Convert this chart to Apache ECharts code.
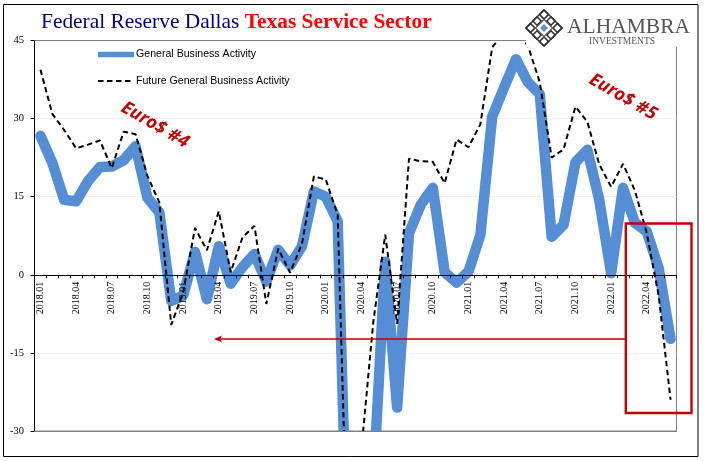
<!DOCTYPE html>
<html><head><meta charset="utf-8">
<style>html,body{margin:0;padding:0;background:#fff}#c{width:705px;height:461px}</style>
<script src="https://cdn.jsdelivr.net/npm/echarts@6/dist/echarts.min.js"></script>
</head><body><div id="c"></div>
<script>
const categories = [];
for (let y = 2018; y <= 2022; y++) for (let m = 1; m <= 12; m++) { if (y === 2022 && m > 6) break; categories.push(y + '.' + String(m).padStart(2, '0')); }
const generalActivity = [26.7,21.5,14.4,14.1,18,20.7,20.8,22,24.7,14.8,12,-5,-4,4.4,-4.7,5.5,-1.7,1.5,4,-1.3,4.8,1.8,5.5,16,15,10.3,-70,-65,-40,2.5,-25.5,8,13.5,16.7,0.5,-1.5,0.6,7.6,30.4,36,41.4,37,34.7,7.3,9.6,21.6,24,14.4,0.3,16.7,10,8.3,1.3,-12.3];
const futureActivity = [39.4,30.9,27.8,24.3,25,25.8,20.5,27.5,27,19,13.9,-9.6,-3.4,9,4.7,12.2,0.5,7.2,9.4,-5.6,5,0.4,6,18.9,18.3,11.5,-68,-33.5,-9,7.7,-9.4,22.3,21.8,21.7,17.6,26,24.5,28.9,43.7,46.5,46.7,44,37,22.5,24.1,32.3,29.4,21.2,16.9,21.3,16.2,8,-4,-24];
const seriesNames = ['General Business Activity','Future General Business Activity'];
const yTicks = {min:-30,max:45,step:15};
const RED='#c00000', SERIF='"Liberation Serif",serif', SANS='"Liberation Sans",sans-serif';
const GRID={left:34.5,right:28.5,top:40.5,bottom:30};
const zeroOffset=(461-GRID.top-GRID.bottom)*(0-yTicks.min)/(yTicks.max-yTicks.min);
const c = echarts.init(document.getElementById('c'),null,{renderer:'canvas'});
function dia(cx,cy,r,o){return Object.assign({type:'polygon',shape:{points:[[cx,cy-r],[cx+r,cy],[cx,cy+r],[cx-r,cy]]},z:30},o);}
const logo=[];
[[544,14.5],[530.5,28],[557.5,28],[544,41.5]].forEach(p=>logo.push(dia(p[0],p[1],4.5,{style:{fill:'none',stroke:'#333',lineWidth:1.6}})));
[[537,21],[551,21],[537,35],[551,35]].forEach(p=>logo.push(dia(p[0],p[1],4.2,{style:{fill:'none',stroke:'#333',lineWidth:1.6}})));
logo.push(dia(544,28,18,{style:{fill:'none',stroke:'#333',lineWidth:1.5}}));
logo.push(dia(544,28,8.5,{style:{fill:'#fff',stroke:'#555',lineWidth:1.2}}));
logo.push(dia(544,28,4,{style:{fill:'#5b8fd6'}}));
c.setOption({
  animation:false,backgroundColor:'#fff',
  title:{left:41,top:12,padding:0,text:'{a|Federal Reserve Dallas }{b|Texas Service Sector}',
    textStyle:{fontWeight:'normal',rich:{a:{fontFamily:SERIF,fontSize:21.4,fontWeight:'normal',color:'#000080'},b:{fontFamily:SERIF,fontSize:21.4,fontWeight:'bold',color:'#ff0000'}}}},
  legend:{left:92,top:44,orient:'vertical',itemWidth:36,itemHeight:10,itemGap:15.5,selectedMode:false,
    textStyle:{fontFamily:SANS,fontSize:10.6,color:'#000',padding:[0,0,0,-3]},
    data:[{name:seriesNames[0],icon:'path://M0 0H37V5.5H0Z',itemStyle:{color:'#558ed5'}},
          {name:seriesNames[1],lineStyle:{width:2,type:[5.5,3.5],color:'#000'},itemStyle:{opacity:0}}]},
  grid:Object.assign({show:true,borderColor:'#808080',borderWidth:1,backgroundColor:'#fff',outerBoundsMode:'none'},GRID),
  xAxis:{type:'category',data:categories,boundaryGap:true,position:'bottom',offset:-zeroOffset,z:2,
    axisLine:{onZero:false,lineStyle:{color:'#000',width:1}},
    axisTick:{show:true,alignWithLabel:false,interval:0,length:3.5,lineStyle:{color:'#000'}},
    axisLabel:{interval:2,rotate:90,margin:7,fontFamily:SERIF,fontSize:10,color:'#000'},splitLine:{show:false}},
  yAxis:{type:'value',min:yTicks.min,max:yTicks.max,interval:yTicks.step,z:0,
    axisLine:{show:true,onZero:false,lineStyle:{color:'#000',width:1}},
    axisTick:{show:true,length:4,lineStyle:{color:'#000'}},
    axisLabel:{margin:10.5,fontFamily:SERIF,fontSize:10.5,color:'#000'},
    splitLine:{show:true,lineStyle:{color:'#efefef',width:1}}},
  series:[
   {name:seriesNames[0],type:'line',data:generalActivity,symbol:'none',smooth:false,clip:true,z:1,
     lineStyle:{color:'#558ed5',width:10.5,cap:'round',join:'round'},itemStyle:{color:'#558ed5'}},
   {name:seriesNames[1],type:'line',data:futureActivity,symbol:'none',smooth:false,clip:true,z:4,
     lineStyle:{color:'#000',width:2,type:[5.5,3.5]},itemStyle:{color:'#000'}}
  ],
  graphic:[
   {type:'rect',shape:{x:3.5,y:4.5,width:694.5,height:452},style:{fill:'none',stroke:'#000',lineWidth:1},z:1,silent:true},
   {type:'rect',shape:{x:36,y:432,width:645,height:10},style:{fill:'#fff'},z:20},
   {type:'rect',shape:{x:526,y:6,width:168,height:41},style:{fill:'#fff'},z:20},
   {type:'rect',shape:{x:36,y:30,width:490,height:10},style:{fill:'#fff'},z:20},
   {type:'line',shape:{x1:34.5,y1:40.5,x2:526,y2:40.5},style:{stroke:'#808080',lineWidth:1},z:21},
   {type:'line',shape:{x1:34.5,y1:431.5,x2:677,y2:431.5},style:{stroke:'#808080',lineWidth:1},z:21},
   ...logo,
   {type:'text',x:567,y:16.5,z:30,style:{text:'ALHAMBRA',fontFamily:SERIF,fontSize:21.5,fill:'#555',lineHeight:22,letterSpacing:0.9}},
   {type:'text',x:589,y:36,z:30,style:{text:'INVESTMENTS',fontFamily:SERIF,fontSize:9.5,fill:'#555',letterSpacing:1.6}},
   {type:'text',x:155,y:125,rotation:-30*Math.PI/180,z:30,style:{text:'Euro$ #4',fontFamily:'"Open Sans",sans-serif',fontSize:18,fontWeight:'bold',fontStyle:'italic',fill:RED,align:'center',verticalAlign:'middle'}},
   {type:'text',x:623,y:97,rotation:-30*Math.PI/180,z:30,style:{text:'Euro$ #5',fontFamily:'"Open Sans",sans-serif',fontSize:18,fontWeight:'bold',fontStyle:'italic',fill:RED,align:'center',verticalAlign:'middle'}},
   {type:'rect',shape:{x:625.8,y:223.5,width:65.7,height:189.5},style:{fill:'none',stroke:RED,lineWidth:2.4},z:30},
   {type:'line',shape:{x1:625,y1:339,x2:218,y2:339},style:{stroke:RED,lineWidth:1.6},z:30},
   {type:'polygon',shape:{points:[[214,339],[222,335.5],[220,339],[222,342.5]]},style:{fill:RED},z:30}
  ]
});
</script></body></html>
